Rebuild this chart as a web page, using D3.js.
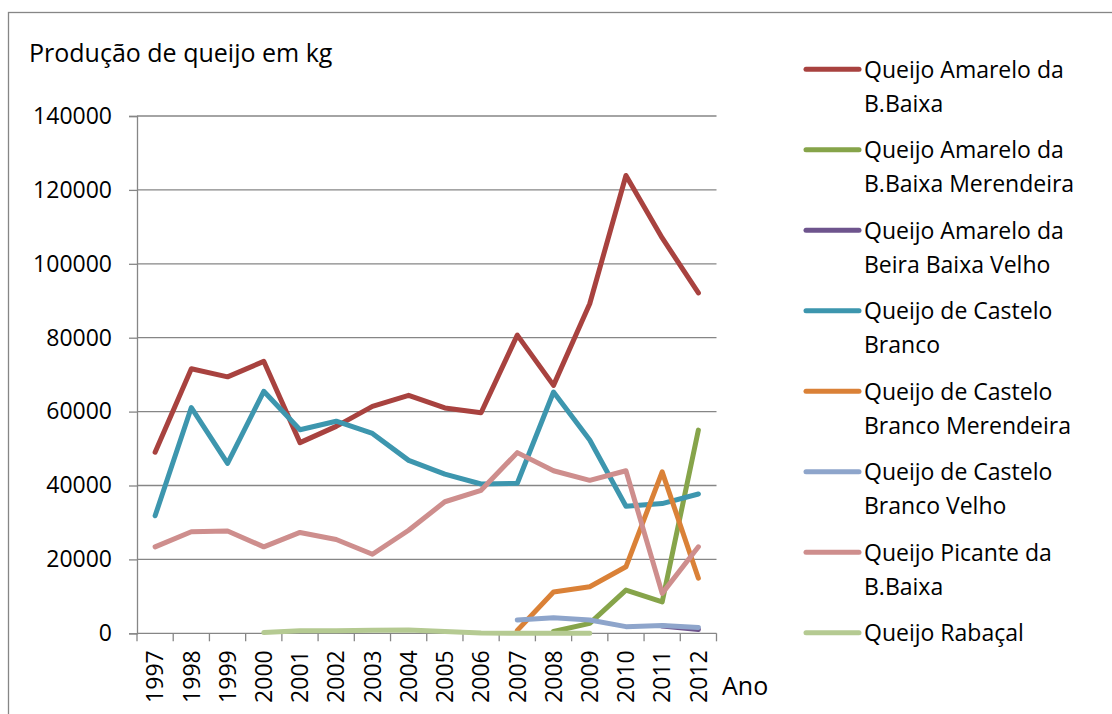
<!DOCTYPE html>
<html lang="pt">
<head>
<meta charset="UTF-8">
<script src="https://d3js.org/d3.v7.min.js"></script>
<style>
  body { margin: 0; background: #fff; }
  text { font-family: 'Open Sans', 'Noto Sans', sans-serif; fill: #000; }
</style>
</head>
<body>
<div id="chart"></div>
<script>
// dados
const anos = ["1997","1998","1999","2000","2001","2002","2003","2004","2005","2006","2007","2008","2009","2010","2011","2012"];
const yTicks = [0, 20000, 40000, 60000, 80000, 100000, 120000, 140000];

const amareloBB = [49000, 71600, 69400, 73600, 51600, 56000, 61400, 64400, 61000, 59700, 80700, 67100, 89200, 123900, 107000, 92100];
const amareloBBMerendeira = [null, null, null, null, null, null, null, null, null, null, null, 500, 2700, 11700, 8500, 55000];
const amareloBBVelho = [null, null, null, null, null, null, null, null, null, null, null, null, null, null, 2000, 1000];
const casteloBranco = [31800, 61100, 46000, 65500, 55100, 57400, 54100, 46800, 43100, 40400, 40600, 65300, 52300, 34400, 35100, 37700];
const casteloBrancoMerendeira = [null, null, null, null, null, null, null, null, null, null, 800, 11200, 12600, 18000, 43700, 14900];
const casteloBrancoVelho = [null, null, null, null, null, null, null, null, null, null, 3600, 4200, 3600, 1800, 2100, 1600];
const picanteBB = [23400, 27500, 27700, 23400, 27300, 25400, 21400, 27900, 35600, 38700, 48900, 44000, 41400, 44000, 10800, 23400];
const rabacal = [null, null, null, 200, 700, 700, 800, 900, 500, 100, 0, 0, 0, null, null, null];

const series = [
  { nome: ["Queijo Amarelo da", "B.Baixa"], valores: amareloBB, cor: "#A8423F" },
  { nome: ["Queijo Amarelo da", "B.Baixa Merendeira"], valores: amareloBBMerendeira, cor: "#86A44A" },
  { nome: ["Queijo Amarelo da", "Beira Baixa Velho"], valores: amareloBBVelho, cor: "#6E548D" },
  { nome: ["Queijo de Castelo", "Branco"], valores: casteloBranco, cor: "#3D96AE" },
  { nome: ["Queijo de Castelo", "Branco Merendeira"], valores: casteloBrancoMerendeira, cor: "#DA8137" },
  { nome: ["Queijo de Castelo", "Branco Velho"], valores: casteloBrancoVelho, cor: "#8EA5CB" },
  { nome: ["Queijo Picante da", "B.Baixa"], valores: picanteBB, cor: "#CE8E8D" },
  { nome: ["Queijo Rabaçal"], valores: rabacal, cor: "#B5CA92" }
];

const width = 1112, height = 714;
const svg = d3.select("#chart").append("svg")
  .attr("width", width)
  .attr("height", height);

// moldura
svg.append("rect")
  .attr("x", 8.5).attr("y", 12.5)
  .attr("width", 1200).attr("height", 800)
  .attr("fill", "none")
  .attr("stroke", "#868686")
  .attr("stroke-width", 1.3);

const plotL = 137, plotR = 716.5, plotT = 116, plotB = 633.3;
const x = d3.scaleBand().domain(anos).range([plotL, plotR]).paddingInner(0).paddingOuter(0);
const y = d3.scaleLinear().domain([0, 140000]).range([plotB, plotT]);
const cx = d => x(d) + x.bandwidth() / 2;

// grelha
svg.append("g")
  .selectAll("line")
  .data(yTicks.filter(t => t > 0))
  .join("line")
  .attr("x1", plotL).attr("x2", plotR)
  .attr("y1", d => y(d)).attr("y2", d => y(d))
  .attr("stroke", "#868686")
  .attr("stroke-width", 1.3);

// eixo y
const yAxis = svg.append("g")
  .attr("transform", `translate(${plotL},0)`)
  .call(d3.axisLeft(y).tickValues(yTicks).tickSize(8).tickPadding(17).tickFormat(d3.format("d")));
yAxis.select(".domain").attr("stroke", "#868686").attr("stroke-width", 1.3);
yAxis.selectAll(".tick line").attr("stroke", "#868686").attr("stroke-width", 1.3);
yAxis.selectAll(".tick text").attr("font-size", "23px").attr("font-family", "'Open Sans', sans-serif").attr("fill", "#000");

// eixo x (marcas entre categorias)
const xb = svg.append("g");
xb.append("line")
  .attr("x1", plotL).attr("x2", plotR)
  .attr("y1", plotB).attr("y2", plotB)
  .attr("stroke", "#868686").attr("stroke-width", 1.3);
xb.selectAll("line.tk")
  .data(anos.concat(["fim"]))
  .join("line")
  .attr("class", "tk")
  .attr("x1", (d, i) => plotL + i * x.bandwidth())
  .attr("x2", (d, i) => plotL + i * x.bandwidth())
  .attr("y1", plotB).attr("y2", plotB + 8)
  .attr("stroke", "#868686").attr("stroke-width", 1.3);
xb.selectAll("text")
  .data(anos)
  .join("text")
  .attr("transform", d => `translate(${cx(d)},${plotB + 17}) rotate(-90)`)
  .attr("text-anchor", "end")
  .attr("dy", "0.36em")
  .attr("font-size", "23px")
  .text(d => d);

// linhas
const linha = d3.line()
  .defined(d => d.v != null)
  .x(d => cx(d.ano))
  .y(d => y(d.v));

svg.append("g")
  .selectAll("path")
  .data(series)
  .join("path")
  .attr("d", s => linha(s.valores.map((v, i) => ({ ano: anos[i], v: v }))))
  .attr("fill", "none")
  .attr("stroke", s => s.cor)
  .attr("stroke-width", 5)
  .attr("stroke-linejoin", "round")
  .attr("stroke-linecap", "round");

// títulos
svg.append("text")
  .attr("x", 29).attr("y", 62)
  .attr("font-size", "25px")
  .text("Produção de queijo em kg");

svg.append("text")
  .attr("x", 722).attr("y", 695)
  .attr("font-size", "25px")
  .text("Ano");

// legenda
const leg = svg.append("g")
  .selectAll("g")
  .data(series)
  .join("g")
  .attr("transform", (d, i) => `translate(806,${69.3 + i * 80.5})`);

leg.append("line")
  .attr("x1", 0).attr("x2", 53)
  .attr("y1", 0).attr("y2", 0)
  .attr("stroke", d => d.cor)
  .attr("stroke-width", 5)
  .attr("stroke-linecap", "round");

leg.each(function (d) {
  const g = d3.select(this);
  d.nome.forEach((t, k) => {
    g.append("text")
      .attr("x", 58)
      .attr("y", k * 34)
      .attr("dy", "0.36em")
      .attr("font-size", "23px")
      .text(t);
  });
});
</script>
</body>
</html>
